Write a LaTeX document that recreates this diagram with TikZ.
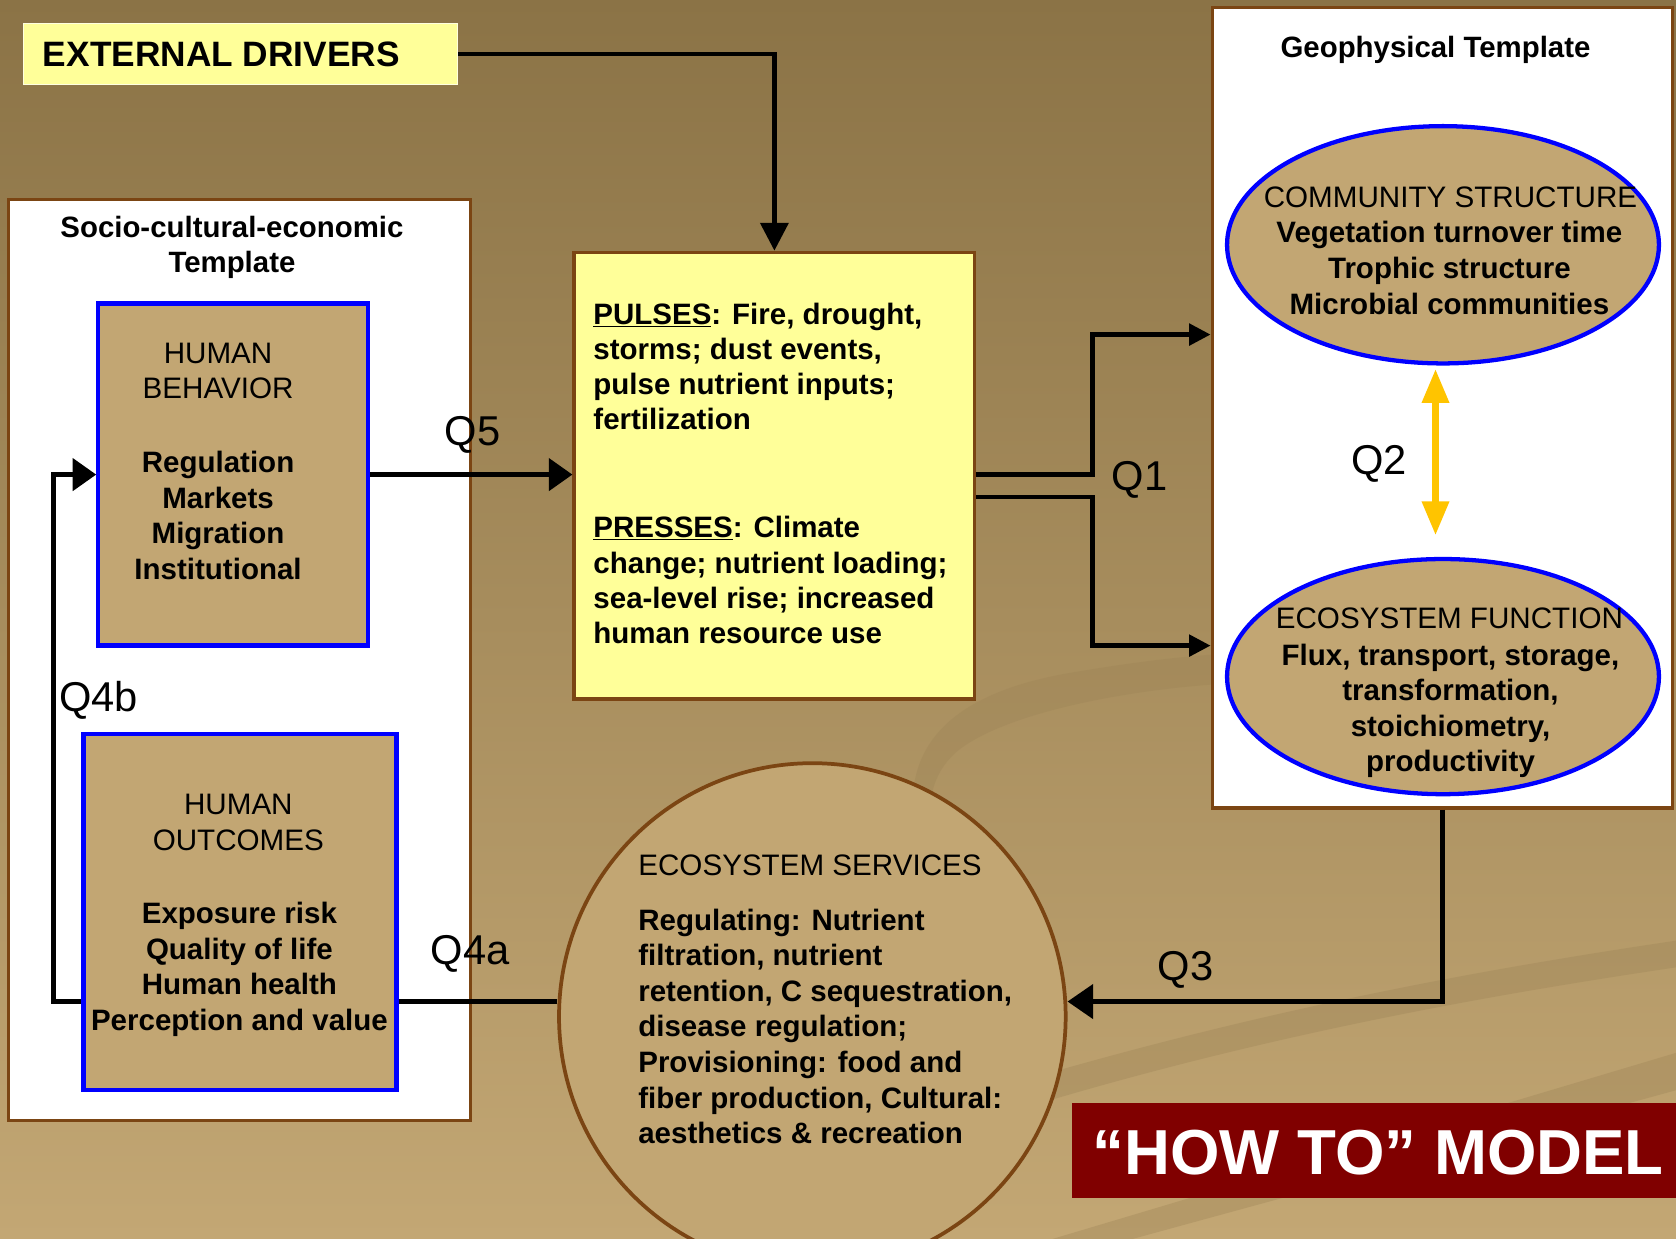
\documentclass[tikz,border=0pt]{standalone}
\usepackage{fontspec}
\setmainfont{Liberation Sans}
\usetikzlibrary{shapes.geometric,arrows.meta}
\definecolor{bgtop}{HTML}{8B7346}
\definecolor{bgmid}{HTML}{B59B68}
\definecolor{bgbot}{HTML}{C3A774}
\definecolor{tanfill}{HTML}{C2A673}
\definecolor{yelfill}{HTML}{FFFF99}
\definecolor{brownline}{HTML}{7B4513}
\definecolor{boxblue}{HTML}{0000FF}
\definecolor{goldarrow}{HTML}{FFC400}
\definecolor{darkred}{HTML}{800000}
\definecolor{swooshcol}{HTML}{9C8356}
\begin{document}
\begin{tikzpicture}[x=1pt,y=-1pt,
  templatebox/.style={draw=brownline, line width=3pt, fill=white, inner sep=0pt},
  yellowbox/.style={draw=brownline, line width=3pt, fill=yelfill, inner sep=0pt},
  bluebox/.style={draw=boxblue, line width=4pt, fill=tanfill, inner sep=0pt},
  blueell/.style={ellipse, draw=boxblue, line width=4pt, fill=tanfill, inner sep=0pt},
  ttl/.style={font=\fontsize{27.5}{33}\selectfont\bfseries, inner sep=0pt, align=center, anchor=north},
  hd/.style={font=\fontsize{27.7}{33}\selectfont, inner sep=0pt, align=center, anchor=north},
  bodyc/.style={font=\fontsize{27.6}{33.3}\selectfont\bfseries, inner sep=0pt, align=center, anchor=north},
  bodyl/.style={font=\fontsize{27.6}{33.3}\selectfont\bfseries, inner sep=0pt, align=left, anchor=north west},
  qlab/.style={font=\fontsize{39}{39}\selectfont, inner sep=0pt, anchor=base},
  conn/.style={line width=4pt, draw=black},
  arr/.style={conn, -{Triangle[length=22pt,width=30pt]}},
  arrsmall/.style={conn, -{Triangle[length=20pt,width=20pt]}},
  swl/.style={fill=swooshcol, fill opacity=0.35},
]
\useasboundingbox (0,0) rectangle (1568,1159);
\clip (0,0) rectangle (1568,1159);
\shade[top color=bgtop, middle color=bgmid, bottom color=bgbot] (0,0) rectangle (1568,1159);
% background swooshes
\fill[swl] (855,770) .. controls (845,690) and (900,645) .. (1010,628) .. controls (1070,618) and (1110,614) .. (1140,612) -- (1140,640) .. controls (1050,646) and (935,668) .. (893,705) .. controls (872,725) and (868,750) .. (872,770) -- cycle;
\fill[swl] (985,1159) -- (1568,985) -- (1568,1020) -- (1060,1159) -- cycle;
\fill[swl] (960,1010) .. controls (1200,940) and (1400,905) .. (1568,880) -- (1568,905) .. controls (1400,930) and (1200,965) .. (980,1030) -- cycle;

% containers
\node[templatebox, minimum width=432, minimum height=861] (socio) at (224,617.5) {};
\node[templatebox, minimum width=431, minimum height=749] (geo) at (1349.5,381.5) {};
\node[draw=white!70!yelfill, line width=1.5pt, fill=yelfill, minimum width=406, minimum height=57, inner sep=0pt] (ext) at (225,50.5) {};
\node[yellowbox, minimum width=375, minimum height=418] (pulses) at (724.5,445) {};
\node[bluebox, minimum width=252, minimum height=320] (behav) at (218,444) {};
\node[bluebox, minimum width=293, minimum height=333] (outc) at (224.5,853.5) {};
\node[blueell, minimum width=404, minimum height=222] (comm) at (1350,229) {};
\node[blueell, minimum width=404, minimum height=220] (func) at (1350,633) {};
\node[circle, draw=brownline, line width=3.5pt, fill=tanfill, minimum size=474, inner sep=0pt] (serv) at (760,951) {};
\node[fill=darkred, minimum width=580, minimum height=89, inner sep=0pt, anchor=north west] (howto) at (1003,1032) {};

% helper coordinates
\coordinate (jx) at (1022,0);
\coordinate (q4bx) at (50,0);
\coordinate (yq4) at (0,937);
\coordinate (ya) at (0,444);
\coordinate (yb) at (0,465);
\coordinate (yc) at (0,313);
\coordinate (yd) at (0,604);

% connectors
\draw[conn, -{Triangle[length=26pt,width=26pt]}] (ext.east) -| (pulses.north);
\draw[arr] (behav.east) -- (behav.east -| pulses.west);
\draw[arr] (outc.west |- yq4) -- (q4bx |- yq4) |- (behav.west);
\draw[conn] (outc.east |- yq4) -- (serv.west |- yq4);
\draw[conn, -{Triangle[length=24pt,width=32pt]}] (geo.south) |- (serv.east |- yq4);
\draw[arrsmall] (pulses.east |- ya) -- (jx |- ya) |- (geo.west |- yc);
\draw[arrsmall] (pulses.east |- yb) -- (jx |- yb) |- (geo.west |- yd);
\draw[draw=goldarrow, line width=7pt, {Triangle[length=32pt,width=24pt]}-{Triangle[length=32pt,width=24pt]}, shorten <=3pt, shorten >=20pt] ([xshift=-7pt]comm.south) -- ([xshift=-7pt]func.north);

% texts
\node[font=\fontsize{33}{33}\selectfont\bfseries, anchor=base west, inner sep=0pt] at (40,62) {EXTERNAL DRIVERS};
\node[ttl] at (217,202) {Socio-cultural-economic\\Template};
\node[ttl] at (1343,34) {Geophysical Template};
\node[hd] at (204,321) {HUMAN\\BEHAVIOR};
\node[bodyc] at (204,422) {Regulation\\Markets\\Migration\\Institutional};
\node[hd] at (223,743) {HUMAN\\OUTCOMES};
\node[bodyc] at (224,844) {Exposure risk\\Quality of life\\Human health\\Perception and value};
\node[bodyl, font=\fontsize{27.6}{33}\selectfont\bfseries] at (555,283) {\underline{PULSES}: Fire, drought,\\storms; dust events,\\pulse nutrient inputs;\\fertilization\\[68pt]\underline{PRESSES}: Climate\\change; nutrient loading;\\sea-level rise; increased\\human resource use};
\node[hd, anchor=base] at (1357,194) {COMMUNITY STRUCTURE};
\node[bodyc] at (1356,207) {Vegetation turnover time\\Trophic structure\\Microbial communities};
\node[hd, anchor=base] at (1356,588) {ECOSYSTEM FUNCTION};
\node[bodyc] at (1357,602) {Flux, transport, storage,\\transformation,\\stoichiometry,\\productivity};
\node[hd, anchor=base west] at (597,819) {ECOSYSTEM SERVICES};
\node[bodyl] at (597,850) {Regulating: Nutrient\\filtration, nutrient\\retention, C sequestration,\\disease regulation;\\Provisioning: food and\\fiber production, Cultural:\\aesthetics \& recreation};

\node[qlab] at (442,417) {Q5};
\node[qlab, anchor=base west] at (55,666) {Q4b};
\node[qlab] at (440,902) {Q4a};
\node[qlab] at (1066,459) {Q1};
\node[qlab] at (1290,444) {Q2};
\node[qlab] at (1109,917) {Q3};

\node[font=\fontsize{59.5}{60}\selectfont\bfseries, text=white, anchor=base west, inner sep=0pt] at (1022,1099) {“HOW TO” MODEL};
\end{tikzpicture}
\end{document}
